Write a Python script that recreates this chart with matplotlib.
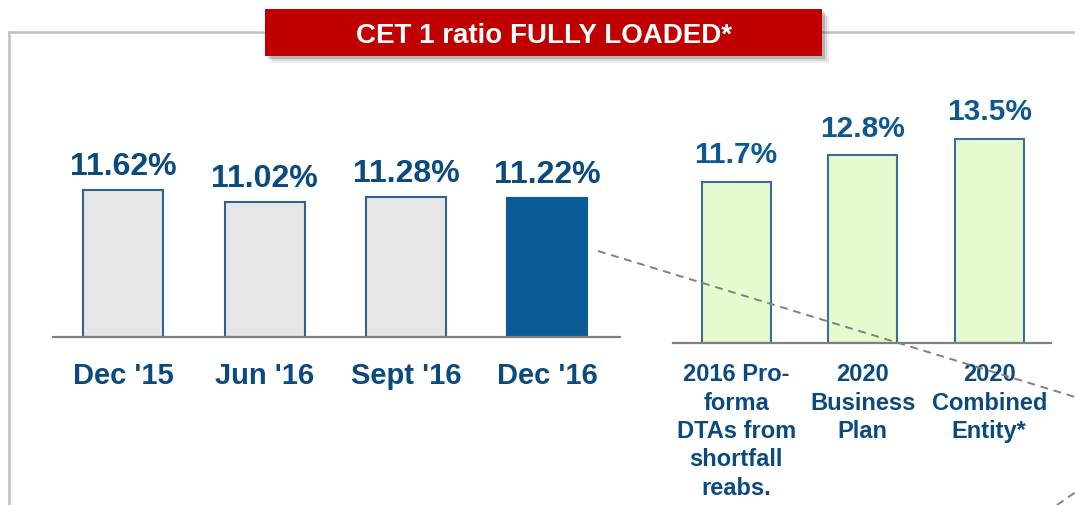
import matplotlib
matplotlib.use("Agg")
import matplotlib.pyplot as plt
from matplotlib.patches import Rectangle
from matplotlib.lines import Line2D

# CET 1 ratio fully loaded - historical quarters
hist_labels = ["Dec '15", "Jun '16", "Sept '16", "Dec '16"]
hist_values = [11.62, 11.02, 11.28, 11.22]

# pro-forma / plan figures
plan_labels = ["2016 Pro-\nforma\nDTAs from\nshortfall\nreabs.",
               "2020\nBusiness\nPlan",
               "2020\nCombined\nEntity*"]
plan_values = [11.7, 12.8, 13.5]

title = "CET 1 ratio FULLY LOADED*"

W, H = 1075, 505
plt.rcParams['font.family'] = ['Liberation Sans', 'DejaVu Sans']
plt.rcParams['font.weight'] = 'bold'

fig = plt.figure(figsize=(W / 100, H / 100), dpi=100)
fig.patch.set_facecolor('white')


def fx(x):
    return x / W


def fy(y):
    return 1 - y / H


def axes_px(x0, y0, x1, y1):
    # pixel box (top-left origin) -> figure fraction axes
    return fig.add_axes([fx(x0), fy(y1), fx(x1) - fx(x0), (y1 - y0) / H])


text_blue = '#0B4A7E'
edge_blue = '#2F6191'

# frame around the chart
frame = '#BFBFBF'
fig.add_artist(Line2D([fx(8.6), fx(8.6)], [fy(32), fy(H + 5)], color=frame, lw=1.8, zorder=1))
fig.add_artist(Line2D([fx(8.6), fx(W + 5)], [fy(32), fy(32)], color=frame, lw=1.8, zorder=1))

# left group: quarters
ax1 = axes_px(53, 32, 620, 337.3)
base1 = 3.72
x1 = range(len(hist_values))
fills = ['#E6E6E6'] * 3 + ['#0A5B96']
edges = [edge_blue] * 3 + ['#0A5B96']
ax1.bar(x1, [v - base1 for v in hist_values], bottom=base1, width=0.566,
        color=fills, edgecolor=edges, linewidth=1.5, zorder=2)
ax1.set_xlim(-0.497, 3.513)
ax1.set_ylim(base1, base1 + 305.3 / 18.6)
for i, v in enumerate(hist_values):
    ax1.annotate(f"{v:.2f}%", xy=(i, v), xytext=(0, 10.8), textcoords='offset points',
                 ha='center', va='baseline', fontsize=23, color=text_blue)
ax1.set_xticks(list(x1), hist_labels)
ax1.tick_params(axis='x', length=0, pad=17.8, labelsize=21, labelcolor=text_blue)

# right group: plans
ax2 = axes_px(673.3, 32, 1050.7, 342.7)
base2 = 5.03
x2 = range(len(plan_values))
ax2.bar(x2, [v - base2 for v in plan_values], bottom=base2, width=0.545,
        color='#E5FBCF', edgecolor='#3B6D9A', linewidth=1.5, zorder=2)
ax2.set_xlim(-0.497, 2.486)
ax2.set_ylim(base2, base2 + 310.7 / 24.1)
for i, v in enumerate(plan_values):
    ax2.annotate(f"{v:.1f}%", xy=(i, v), xytext=(0, 13.3), textcoords='offset points',
                 ha='center', va='baseline', fontsize=21.5, color='#0D5892')
ax2.set_xticks(list(x2), plan_labels)
ax2.tick_params(axis='x', length=0, pad=14.8, labelsize=17, labelcolor=text_blue)
for lab in ax2.get_xticklabels():
    lab.set_linespacing(1.3)

for ax in (ax1, ax2):
    ax.set_facecolor('none')
    ax.set_yticks([])
    for s in ('top', 'left', 'right'):
        ax.spines[s].set_visible(False)
    ax.spines['bottom'].set_color('#808080')
    ax.spines['bottom'].set_linewidth(1.6)

# title banner with soft shadow
bx0, by0, bx1, by1 = 265, 9.3, 822, 56
for off, a in ((7, 0.10), (5, 0.15), (3, 0.25)):
    fig.add_artist(Rectangle((fx(bx0 + off), fy(by1 + off)), fx(bx1 - bx0), (by1 - by0) / H,
                             facecolor='#555555', alpha=a, edgecolor='none', zorder=4))
fig.add_artist(Rectangle((fx(bx0), fy(by1)), fx(bx1 - bx0), (by1 - by0) / H,
                         facecolor='#C00000', edgecolor='none', zorder=5))
fig.text(fx((bx0 + bx1) / 2), fy(42.7), title, ha='center', va='baseline',
         fontsize=20, color='white', zorder=6)

# dashed zoom guides
fig.add_artist(Line2D([fx(598), fx(1075)], [fy(251), fy(397)], color='#808080',
                      lw=1.4, linestyle=(0, (4, 3)), zorder=3))
fig.add_artist(Line2D([fx(1057), fx(1075)], [fy(505), fy(492.5)], color='#808080',
                      lw=1.4, linestyle=(0, (4, 3)), zorder=3))

fig.savefig('out.png', dpi=100)
